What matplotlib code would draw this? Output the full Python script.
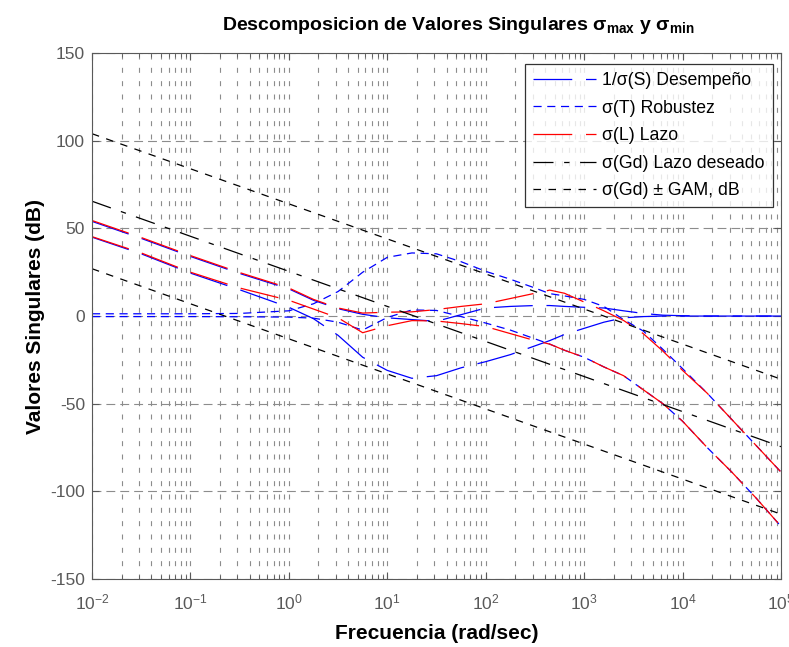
import numpy as np
import matplotlib
matplotlib.use('Agg')
import matplotlib.pyplot as plt
from matplotlib.ticker import FixedLocator, NullFormatter

plt.rcParams['font.family'] = ['Liberation Sans', 'DejaVu Sans']
plt.rcParams['mathtext.fontset'] = 'custom'
plt.rcParams['mathtext.rm'] = 'Liberation Sans'
plt.rcParams['mathtext.bf'] = 'Liberation Sans:bold'
plt.rcParams['mathtext.default'] = 'regular'
plt.rcParams['axes.unicode_minus'] = False

# frequency grid, log10(rad/sec)
log_w = [-2, -1.5, -1, -0.5, 0, 0.25, 0.5, 0.75, 1, 1.25, 1.5, 1.75, 2, 2.25,
         2.5, 2.65, 2.8, 3, 3.2, 3.4, 3.6, 3.8, 4, 4.25, 4.5, 4.75, 5]

# sigma(L) max / min
l_max = [54.5, 44.8, 34.5, 24.8, 16, 9.5, 4.6, 1.7, 2.2, 2.4, 3.7, 5.5, 7, 10,
         13, 14.8, 13, 8, 3, -2.5, -10, -20, -31, -44, -59, -74, -89]
l_min = [45.3, 36, 25, 16, 9, 4, -1, -9.5, -5.5, -2.6, -2.8, -4.3, -6, -10,
         -14, -16, -19.5, -23.5, -29, -34, -42, -50, -60, -75, -89, -104, -120]

# 1/sigma(S) (two singular values)
s_hi = [54, 44.3, 34, 24.3, 15.5, 9, 4.2, 1, -1, -2, -3, 0.8, 4.6, 5.5,
        6, 6, 5.5, 5, 4.6, 3, 1.5, 0.5, 0.2, 0, 0, 0, 0]
s_lo = [45, 35.5, 24.5, 15, 5, -1.5, -11, -23.5, -31, -35.5, -34, -29.5, -26, -22,
        -17, -14, -10.5, -7, -3.5, -1, -0.3, 0, 0, 0, 0, 0, 0]

# sigma(T) (two singular values)
t_hi = [1.3, 1.3, 1.3, 1.5, 3, 7, 14, 25, 33.5, 36, 35.5, 31, 25.5, 21,
        16, 12.8, 11.5, 9.5, 5.5, -2, -8.5, -19, -30, -44, -59, -74, -89]
t_lo = [-0.3, -0.3, -0.3, -0.4, -0.6, -1.2, -3.5, -8, -0.8, 3.5, 3.2, -0.3, -4, -8,
        -13, -16, -19.5, -23.5, -29, -34, -42, -50, -60, -75, -89, -104, -120]

# desired loop sigma(Gd) and +/- GAM band (straight lines)
gd_w = [1e-2, 1e5]
gd_db = [65.5, -74.5]
gam_hi = [104, -36]
gam_lo = [27, -113]

w = 10 ** np.array(log_w, dtype=float)

fig = plt.figure(figsize=(7.89, 6.47), dpi=100)
ax = fig.add_axes([0.1166, 0.105, 0.8733, 0.813])

solid_pat = (0, (31, 11))
blue_dash = (0, (6.5, 4.5))
gd_pat = (0, (16, 8.5, 4.3, 8.5))
gam_pat = (0, (6, 6))

ax.semilogx(w, s_hi, color='blue', lw=0.9, linestyle=solid_pat, label='1/σ(S) Desempeño')
ax.semilogx(w, s_lo, color='blue', lw=0.9, linestyle=solid_pat)
ax.semilogx(w, t_hi, color='blue', lw=0.9, linestyle=blue_dash, label='σ(T) Robustez')
ax.semilogx(w, t_lo, color='blue', lw=0.9, linestyle=blue_dash)
ax.semilogx(w, l_max, color='red', lw=0.9, linestyle=solid_pat, label='σ(L) Lazo')
ax.semilogx(w, l_min, color='red', lw=0.9, linestyle=solid_pat)
ax.semilogx(gd_w, gd_db, color='black', lw=0.9, linestyle=gd_pat, label='σ(Gd) Lazo deseado')
ax.semilogx(gd_w, gam_hi, color='black', lw=0.9, linestyle=gam_pat, label='σ(Gd) ± GAM, dB')
ax.semilogx(gd_w, gam_lo, color='black', lw=0.9, linestyle=gam_pat)

ax.set_xlim(1e-2, 1e5)
ax.set_ylim(-150, 150)
ax.set_yticks(range(-150, 151, 50))
decades = [1e-2, 1e-1, 1e0, 1e1, 1e2, 1e3, 1e4, 1e5]
ax.xaxis.set_major_locator(FixedLocator(decades))
ax.set_xticklabels(['$10^{%d}$' % p for p in range(-2, 6)])
minors = [m * d for d in decades[:-1] for m in range(2, 10)]
ax.xaxis.set_minor_locator(FixedLocator(minors))
ax.xaxis.set_minor_formatter(NullFormatter())

ax.grid(True, which='major', axis='y', color='0.55', lw=0.8, linestyle=(0, (8, 4.5)))
ax.grid(True, which='both', axis='x', color='0.55', lw=0.8, linestyle=(0, (4.5, 7.5)))

ax.tick_params(which='both', direction='in', top=True, right=True, colors='0.35',
               labelsize=12.5, labelcolor='0.35')
ax.tick_params(which='major', length=5)
ax.tick_params(which='minor', length=3)
ax.tick_params(axis='x', pad=10)
ax.tick_params(axis='y', pad=5)
for sp in ax.spines.values():
    sp.set_color('0.35')

ax.set_xlabel('Frecuencia (rad/sec)', fontsize=15, fontweight='bold', labelpad=8)
ax.set_ylabel('Valores Singulares (dB)', fontsize=15, fontweight='bold', labelpad=4)
fig.text(0.581, 0.96, 'Descomposicion de Valores Singulares $\\mathbf{σ_{max}}$ y $\\mathbf{σ_{min}}$',
         ha='center', va='center', fontsize=14, fontweight='bold')

leg = ax.legend(loc='upper right', bbox_to_anchor=(0.988, 0.979), borderaxespad=0,
                fontsize=12.7, handlelength=3.6, frameon=True, fancybox=False,
                borderpad=0.45, labelspacing=0.6, handletextpad=0.35)
leg.get_frame().set_edgecolor('black')
leg.get_frame().set_linewidth(0.9)

plt.savefig('out.png', dpi=100)
